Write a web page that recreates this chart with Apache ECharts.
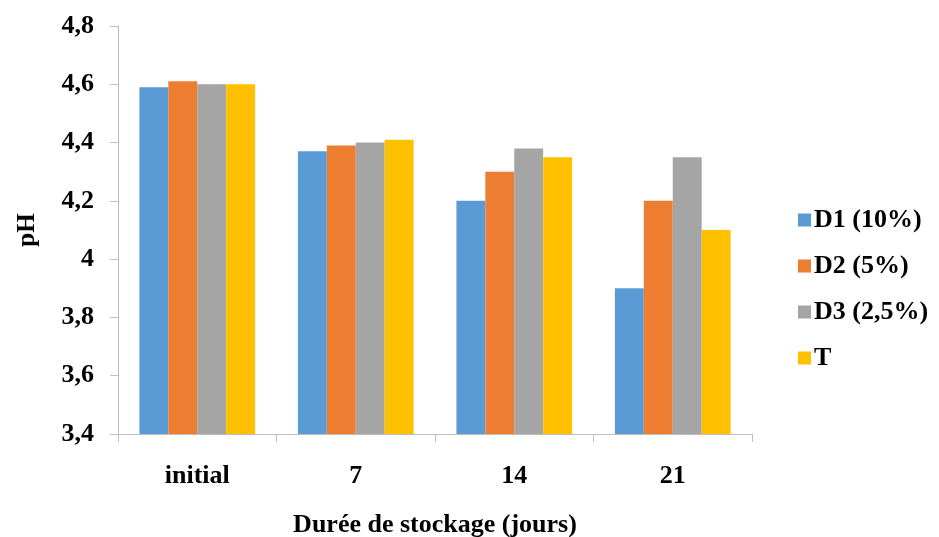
<!DOCTYPE html>
<html><head><meta charset="utf-8">
<script src="https://cdn.jsdelivr.net/npm/echarts@6/dist/echarts.min.js"></script>
<style>html,body{margin:0;padding:0;background:#fff}#c{width:939px;height:537px}</style>
</head><body><div id="c"></div>
<script>
const categories = ['initial', '7', '14', '21'];
const seriesNames = ['D1 (10%)', 'D2 (5%)', 'D3 (2,5%)', 'T'];
const d1 = [4.59, 4.37, 4.20, 3.90];
const d2 = [4.61, 4.39, 4.30, 4.20];
const d3 = [4.60, 4.40, 4.38, 4.35];
const t = [4.60, 4.41, 4.35, 4.10];
const colors = ['#5B9BD5', '#ED7D31', '#A5A5A5', '#FFC000'];
const font = 'Liberation Serif';
const chart = echarts.init(document.getElementById('c'));
const data = [d1, d2, d3, t];
chart.setOption({
  animation: false,
  grid: { left: 118, right: 187, top: 26, bottom: 103, containLabel: false, outerBoundsMode: 'none' },
  legend: {
    orient: 'vertical', left: 793, top: 202,
    itemWidth: 13, itemHeight: 13, itemGap: 20, icon: 'rect',
    textStyle: { fontFamily: font, fontWeight: 'bold', fontSize: 26, color: '#000', lineHeight: 25, padding: [0,0,0,-2] },
    data: seriesNames
  },
  xAxis: {
    type: 'category', data: categories,
    axisLine: { lineStyle: { color: '#BFBFBF', width: 1 } },
    axisTick: { show: true, length: 8, lineStyle: { color: '#BFBFBF' } },
    axisLabel: { fontFamily: font, fontWeight: 'bold', fontSize: 26, color: '#000', margin: 29 },
    name: 'Durée de stockage (jours)', nameLocation: 'middle', nameGap: 78,
    nameTextStyle: { fontFamily: font, fontWeight: 'bold', fontSize: 26, color: '#000' }
  },
  yAxis: {
    type: 'value', min: 3.4, max: 4.8, interval: 0.2,
    axisLine: { show: true, lineStyle: { color: '#BFBFBF', width: 1 } },
    axisTick: { show: true, length: 8, lineStyle: { color: '#BFBFBF' } },
    splitLine: { show: false },
    axisLabel: { fontFamily: font, fontWeight: 'bold', fontSize: 26, color: '#000', margin: 24,
      formatter: v => (Math.round(v * 10) / 10).toString().replace('.', ',') },
    name: 'pH', nameLocation: 'middle', nameGap: 78, nameRotate: 90,
    nameTextStyle: { fontFamily: font, fontWeight: 'bold', fontSize: 25, color: '#000' }
  },
  series: seriesNames.map((n, i) => ({
    name: n, type: 'bar', data: data[i],
    itemStyle: { color: colors[i] },
    barGap: '0%', barCategoryGap: '27%'
  }))
});
</script></body></html>
